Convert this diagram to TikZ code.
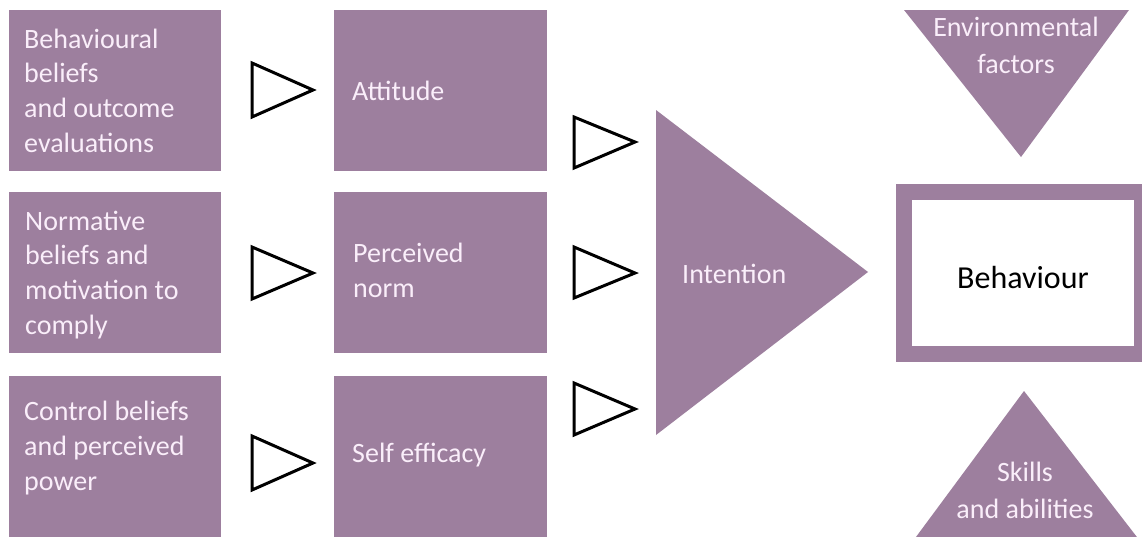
\documentclass[tikz,border=0pt]{standalone}
\usepackage{fontspec}
\setmainfont{Carlito}
\definecolor{purp}{RGB}{157,127,158}
\definecolor{ltxt}{RGB}{250,238,250}
\begin{document}
\begin{tikzpicture}[x=1pt,y=-1pt,
  box/.style={fill=purp,draw=none,inner sep=0pt,outer sep=0pt},
  btxt/.style={text=ltxt,font=\fontsize{28}{34.6}\selectfont,align=left,inner sep=0pt,anchor=base west},
  ctxt/.style={text=ltxt,font=\fontsize{28}{37}\selectfont,align=center,inner sep=0pt,anchor=base},
  arr/.style={draw=black,line width=3pt,fill=white,line join=miter}]
\useasboundingbox (0,0) rectangle (1142,536);
\fill[white] (0,0) rectangle (1142,536);
\begin{scope}
\clip (0,0) rectangle (1142,536);
% left column
\node[box,minimum width=212pt,minimum height=161pt,anchor=north west] (bb) at (9,10) {};
\node[box,minimum width=212pt,minimum height=161pt,anchor=north west] (nb) at (9,192) {};
\node[box,minimum width=212pt,minimum height=165pt,anchor=north west] (cb) at (9,376) {};
% middle column
\node[box,minimum width=213pt,minimum height=161pt,anchor=north west] (att) at (334,10) {};
\node[box,minimum width=213pt,minimum height=161pt,anchor=north west] (pn) at (334,192) {};
\node[box,minimum width=213pt,minimum height=165pt,anchor=north west] (se) at (334,376) {};
% intention
\fill[purp] (656,110) -- (656,435) -- (868,272) -- cycle;
% environmental / skills
\fill[purp] (904,10) -- (1129,10) -- (1021,157) -- cycle;
\fill[purp] (1024,391) -- (913,541) -- (1140,541) -- cycle;
% behaviour frame
\fill[purp] (896,184) rectangle (1150,362);
\node[fill=white,draw=none,inner sep=0pt,minimum width=222pt,minimum height=146pt,anchor=north west] (beh) at (912,200) {};
\end{scope}
% texts (anchor = baseline of last line)
\node[btxt] (t1) at (24,152) {Behavioural\\beliefs\\and outcome\\evaluations};
\node[btxt] (t2) at (25,334) {Normative\\beliefs and\\motivation to\\comply};
\node[btxt] (t3) at (24,490) {Control beliefs\\and perceived\\power};
\node[btxt] (t4) at (352,100) {Attitude};
\node[btxt] (t5) at (353,297) {Perceived\\norm};
\node[btxt] (t6) at (352,462) {Self efficacy};
\node[btxt] (t7) at (682,283) {Intention};
\node[ctxt] (t8) at (1016,73) {Environmental\\factors};
\node[ctxt] (t9) at (1025,518) {Skills\\and abilities};
\node[anchor=base,inner sep=0pt,font=\fontsize{32}{36}\selectfont,text=black] (t10) at (1023,288) {Behaviour};
% small triangles
\draw[arr] (252,63) -- (252,117) -- (313,90) -- cycle;
\draw[arr] (252,247) -- (252,299) -- (313,273) -- cycle;
\draw[arr] (252,436) -- (252,490) -- (313,463) -- cycle;
\draw[arr] (574,117) -- (574,168) -- (635,142) -- cycle;
\draw[arr] (574,247) -- (574,298) -- (635,273) -- cycle;
\draw[arr] (574,383) -- (574,435) -- (635,409) -- cycle;
\end{tikzpicture}
\end{document}
